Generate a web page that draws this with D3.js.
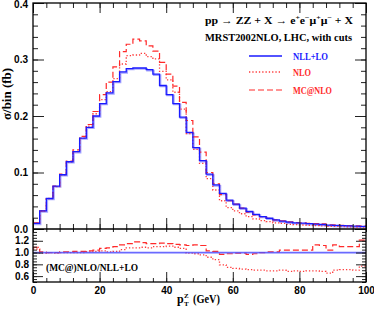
<!DOCTYPE html>
<html>
<head>
<meta charset="utf-8">
<script src="https://cdnjs.cloudflare.com/ajax/libs/d3/7.8.5/d3.min.js"></script>
<style>
    body { margin: 0; background: #fff; }
    svg text { font-family: "Liberation Serif", "DejaVu Serif", serif; fill: #000; }
    .tick-label text { font-family: "Liberation Sans", Arial, sans-serif; font-weight: bold; font-size: 10px; }
    .axis path.domain { display: none; }
    .axis line { stroke: #222; stroke-width: 1; }
</style>
</head>
<body>
<div id="chart"></div>
<script>

// lower edge of each 2 GeV bin in p_T^Z
const ptBins = [0, 2, 4, 6, 8, 10, 12, 14, 16, 18, 20, 22, 24, 26, 28, 30, 32, 34, 36, 38,
    40, 42, 44, 46, 48, 50, 52, 54, 56, 58, 60, 62, 64, 66, 68, 70, 72, 74, 76, 78,
    80, 82, 84, 86, 88, 90, 92, 94, 96, 98];

// sigma/bin (fb)
const nllLo = [0.010, 0.032, 0.054, 0.076, 0.096, 0.119, 0.137, 0.161, 0.180, 0.200,
    0.222, 0.241, 0.261, 0.278, 0.284, 0.285, 0.285, 0.282, 0.274, 0.254,
    0.238, 0.222, 0.198, 0.171, 0.144, 0.121, 0.097, 0.078, 0.063, 0.051,
    0.044, 0.037, 0.031, 0.026, 0.022, 0.019, 0.016, 0.014, 0.012, 0.011,
    0.0105, 0.0095, 0.0085, 0.008, 0.007, 0.0065, 0.006, 0.0055, 0.005, 0.0045];

const nlo = [0.011, 0.032, 0.054, 0.075, 0.096, 0.119, 0.137, 0.161, 0.182, 0.204,
    0.229, 0.243, 0.266, 0.292, 0.307, 0.308, 0.311, 0.305, 0.301, 0.279,
    0.264, 0.242, 0.212, 0.169, 0.141, 0.116, 0.089, 0.069, 0.050, 0.038,
    0.032, 0.027, 0.022, 0.018, 0.015, 0.013, 0.011, 0.0098, 0.0082, 0.0076,
    0.0071, 0.0066, 0.0059, 0.0054, 0.0046, 0.0046, 0.0043, 0.0039, 0.0035, 0.0035];

const mcAtNlo = [0.011, 0.032, 0.054, 0.076, 0.097, 0.120, 0.140, 0.164, 0.185, 0.208,
    0.238, 0.260, 0.287, 0.314, 0.327, 0.336, 0.333, 0.324, 0.315, 0.295,
    0.274, 0.253, 0.224, 0.192, 0.163, 0.136, 0.100, 0.080, 0.061, 0.050,
    0.044, 0.037, 0.030, 0.025, 0.022, 0.019, 0.016, 0.0146, 0.0125, 0.0114,
    0.0109, 0.0099, 0.0096, 0.009, 0.0073, 0.0073, 0.0066, 0.006, 0.0055, 0.0054];

// ratio panel: (MC@)NLO / NLL+LO
const ratioNlo = [1.06, 0.99, 1.00, 0.99, 1.00, 1.00, 1.00, 1.00, 1.01, 1.02,
    1.03, 1.01, 1.02, 1.05, 1.08, 1.08, 1.09, 1.08, 1.10, 1.10,
    1.11, 1.09, 1.07, 0.99, 0.98, 0.96, 0.92, 0.88, 0.79, 0.75,
    0.73, 0.72, 0.71, 0.70, 0.70, 0.69, 0.69, 0.70, 0.68, 0.69,
    0.68, 0.69, 0.69, 0.68, 0.65, 0.70, 0.71, 0.71, 0.70, 0.77];

const ratioMc = [1.09, 1.01, 1.00, 1.00, 1.01, 1.01, 1.02, 1.02, 1.03, 1.04,
    1.07, 1.08, 1.10, 1.13, 1.15, 1.18, 1.17, 1.15, 1.15, 1.16,
    1.15, 1.14, 1.13, 1.12, 1.13, 1.12, 1.03, 1.02, 0.97, 0.98,
    0.99, 0.99, 0.97, 0.98, 1.00, 1.01, 1.01, 1.04, 1.04, 1.04,
    1.04, 1.04, 1.13, 1.12, 1.04, 1.13, 1.10, 1.10, 1.10, 1.21];

const xTicks = [0, 20, 40, 60, 80, 100];
const yTicksMain = [0.0, 0.1, 0.2, 0.3, 0.4];
const yTicksRatio = [0.6, 0.8, 1.0, 1.2];

const legendNames = ["NLL+LO", "NLO", "MC@NLO"];


// layout
const W = 374, H = 309;
const left = 33, right = 366;
const mainTop = 3, mainBottom = 229, ratioBottom = 282;

const svg = d3.select("#chart").append("svg")
    .attr("width", W)
    .attr("height", H);

const x = d3.scaleLinear().domain([0, 100]).range([left, right]);
const y = d3.scaleLinear().domain([0, 0.4]).range([mainBottom, mainTop]);
const yr = d3.scaleLinear().domain([0.5, 1.4]).range([ratioBottom, mainBottom]);

// clip regions
const defs = svg.append("defs");
defs.append("clipPath").attr("id", "clip-main").append("rect")
    .attr("x", left).attr("y", mainTop).attr("width", right - left).attr("height", mainBottom - mainTop);
defs.append("clipPath").attr("id", "clip-ratio").append("rect")
    .attr("x", left).attr("y", mainBottom).attr("width", right - left).attr("height", ratioBottom - mainBottom);

// step points: each bin value held to the next edge, last one to 100
function steps(vals) {
    let pts = ptBins.map((b, i) => [b, vals[i]]);
    pts.push([100, vals[vals.length - 1]]);
    return pts;
}

const mainLine = d3.line().x(d => x(d[0])).y(d => y(d[1])).curve(d3.curveStepAfter);
const ratioLine = d3.line().x(d => x(d[0])).y(d => yr(d[1])).curve(d3.curveStepAfter);

const styles = {
    nll: {color: "#1a1aff", dash: null, width: 1.3},
    nlo: {color: "#ff3a3a", dash: "1.3,2", width: 1.3},
    mc: {color: "#ff2a2a", dash: "6,3", width: 1.2}
};

// ---- main panel curves
let gMain = svg.append("g").attr("clip-path", "url(#clip-main)");

gMain.append("path")
    .datum(steps(nllLo))
    .attr("fill", "none")
    .attr("stroke", "#8080ff")
    .attr("stroke-width", 1.8)
    .attr("opacity", 0.7)
    .attr("transform", "translate(0.9,0.9)")
    .attr("d", mainLine);

gMain.append("path")
    .datum(steps(nlo))
    .attr("fill", "none")
    .attr("stroke", styles.nlo.color)
    .attr("stroke-width", styles.nlo.width)
    .attr("stroke-dasharray", styles.nlo.dash)
    .attr("d", mainLine);

gMain.append("path")
    .datum(steps(mcAtNlo))
    .attr("fill", "none")
    .attr("stroke", styles.mc.color)
    .attr("stroke-width", styles.mc.width)
    .attr("stroke-dasharray", styles.mc.dash)
    .attr("d", mainLine);

gMain.append("path")
    .datum(steps(nllLo))
    .attr("fill", "none")
    .attr("stroke", styles.nll.color)
    .attr("stroke-width", styles.nll.width)
    .attr("d", mainLine);

// ---- ratio panel curves
let gRatio = svg.append("g").attr("clip-path", "url(#clip-ratio)");

gRatio.append("path")
    .datum(steps(ratioNlo))
    .attr("fill", "none")
    .attr("stroke", styles.nlo.color)
    .attr("stroke-width", styles.nlo.width)
    .attr("stroke-dasharray", styles.nlo.dash)
    .attr("d", ratioLine);

gRatio.append("path")
    .datum(steps(ratioMc))
    .attr("fill", "none")
    .attr("stroke", styles.mc.color)
    .attr("stroke-width", styles.mc.width)
    .attr("stroke-dasharray", styles.mc.dash)
    .attr("d", ratioLine);

// NLL+LO divided by itself
gRatio.append("path")
    .datum(steps(nllLo.map(v => v / v)))
    .attr("fill", "none")
    .attr("stroke", "#5050ff")
    .attr("stroke-width", 1.8)
    .attr("opacity", 0.85)
    .attr("d", ratioLine);

// ---- axes (all ticks pointing inward)
function addAxis(axis, tx, ty, cls) {
    return svg.append("g")
        .attr("class", "axis " + (cls || ""))
        .attr("transform", "translate(" + tx + "," + ty + ")")
        .call(axis);
}

const minorX = d3.range(0, 101, 4);
const minorY = d3.range(0, 0.401, 0.02);
const minorR = d3.range(0.5, 1.401, 0.05);

// main panel
addAxis(d3.axisLeft(y).tickValues(minorY).tickSize(-5).tickFormat(""), left, 0);
let yAxisMain = addAxis(d3.axisLeft(y).tickValues(yTicksMain).tickSize(-11).tickPadding(5).tickFormat(d3.format(".1f")), left, 0, "tick-label");
// keep the top label inside the picture
yAxisMain.selectAll("text").filter(d => d === 0.4).attr("dy", "0.32em").attr("y", 1.5);
addAxis(d3.axisRight(y).tickValues(minorY).tickSize(-5).tickFormat(""), right, 0);
addAxis(d3.axisRight(y).tickValues(yTicksMain).tickSize(-11).tickFormat(""), right, 0);
addAxis(d3.axisTop(x).tickValues(minorX).tickSize(-5).tickFormat(""), 0, mainTop);
addAxis(d3.axisTop(x).tickValues(xTicks).tickSize(-10).tickFormat(""), 0, mainTop);
addAxis(d3.axisBottom(x).tickValues(minorX).tickSize(-5).tickFormat(""), 0, mainBottom);
addAxis(d3.axisBottom(x).tickValues(xTicks).tickSize(-11).tickFormat(""), 0, mainBottom);

// ratio panel
addAxis(d3.axisLeft(yr).tickValues(minorR).tickSize(-4).tickFormat(""), left, 0);
addAxis(d3.axisLeft(yr).tickValues(yTicksRatio).tickSize(-10).tickPadding(4).tickFormat(d3.format(".1f")), left, 0, "tick-label");
addAxis(d3.axisRight(yr).tickValues(minorR).tickSize(-4).tickFormat(""), right, 0);
addAxis(d3.axisRight(yr).tickValues(yTicksRatio).tickSize(-10).tickFormat(""), right, 0);
addAxis(d3.axisTop(x).tickValues(minorX).tickSize(-3).tickFormat(""), 0, mainBottom);
addAxis(d3.axisBottom(x).tickValues(minorX).tickSize(-4).tickFormat(""), 0, ratioBottom);
addAxis(d3.axisBottom(x).tickValues(xTicks).tickSize(-10).tickPadding(5).tickFormat(d3.format("d")), 0, ratioBottom, "tick-label");

// frame
svg.append("rect")
    .attr("x", left).attr("y", mainTop)
    .attr("width", right - left).attr("height", ratioBottom - mainTop)
    .attr("fill", "none")
    .attr("stroke", "#000")
    .attr("stroke-width", 1.3);

svg.append("line")
    .attr("x1", left).attr("x2", right)
    .attr("y1", mainBottom).attr("y2", mainBottom)
    .attr("stroke", "#000")
    .attr("stroke-width", 1.5);

// ---- labels
svg.append("text")
    .attr("transform", "translate(11,94) rotate(-90)")
    .attr("text-anchor", "middle")
    .attr("font-size", 12)
    .attr("font-weight", "bold")
    .attr("textLength", 52)
    .attr("lengthAdjust", "spacingAndGlyphs")
    .text("σ/bin (fb)");

// x axis title p_T^Z (GeV)
let xt = svg.append("g").attr("font-weight", "bold");
xt.append("text").attr("x", 177).attr("y", 303).attr("font-size", 12).text("p");
xt.append("text").attr("x", 184).attr("y", 306).attr("font-size", 7).text("T");
xt.append("text").attr("x", 184).attr("y", 298).attr("font-size", 7).text("Z");
xt.append("text").attr("x", 193).attr("y", 303).attr("font-size", 12)
    .attr("textLength", 27).attr("lengthAdjust", "spacingAndGlyphs").text("(GeV)");

// process line
let proc = svg.append("text")
    .attr("x", 205).attr("y", 24)
    .attr("font-size", 10.5)
    .attr("font-weight", "bold")
    .attr("textLength", 148)
    .attr("lengthAdjust", "spacingAndGlyphs");
proc.append("tspan").text("pp → ZZ + X → e");
proc.append("tspan").attr("dy", -4).attr("font-size", 7).text("+");
proc.append("tspan").attr("dy", 4).text("e");
proc.append("tspan").attr("dy", -4).attr("font-size", 7).text("−");
proc.append("tspan").attr("dy", 4).text("μ");
proc.append("tspan").attr("dy", -4).attr("font-size", 7).text("+");
proc.append("tspan").attr("dy", 4).text("μ");
proc.append("tspan").attr("dy", -4).attr("font-size", 7).text("−");
proc.append("tspan").attr("dy", 4).text(" + X");

svg.append("text")
    .attr("x", 205).attr("y", 41)
    .attr("font-size", 10.5)
    .attr("font-weight", "bold")
    .attr("textLength", 147)
    .attr("lengthAdjust", "spacingAndGlyphs")
    .text("MRST2002NLO, LHC, with cuts");

// legend
const legendStyles = [styles.nll, styles.nlo, styles.mc];
const legendY = [56, 72, 90];
const legendW = [35, 18, 39];

let legend = svg.append("g");
legendNames.forEach((name, i) => {
    let s = legendStyles[i];
    legend.append("line")
        .attr("x1", 249).attr("x2", 282)
        .attr("y1", legendY[i]).attr("y2", legendY[i])
        .attr("stroke", s.color)
        .attr("stroke-width", s.width)
        .attr("stroke-dasharray", s.dash);
    legend.append("text")
        .attr("x", 293).attr("y", legendY[i] + 4)
        .attr("font-size", 11)
        .attr("font-weight", "bold")
        .style("fill", i === 0 ? "#1a1aff" : "#ff2a2a")
        .attr("textLength", legendW[i])
        .attr("lengthAdjust", "spacingAndGlyphs")
        .text(name);
});

svg.append("text")
    .attr("x", 46).attr("y", 271)
    .attr("font-size", 11)
    .attr("font-weight", "bold")
    .attr("textLength", 92)
    .attr("lengthAdjust", "spacingAndGlyphs")
    .text("(MC@)NLO/NLL+LO");

</script>
</body>
</html>
